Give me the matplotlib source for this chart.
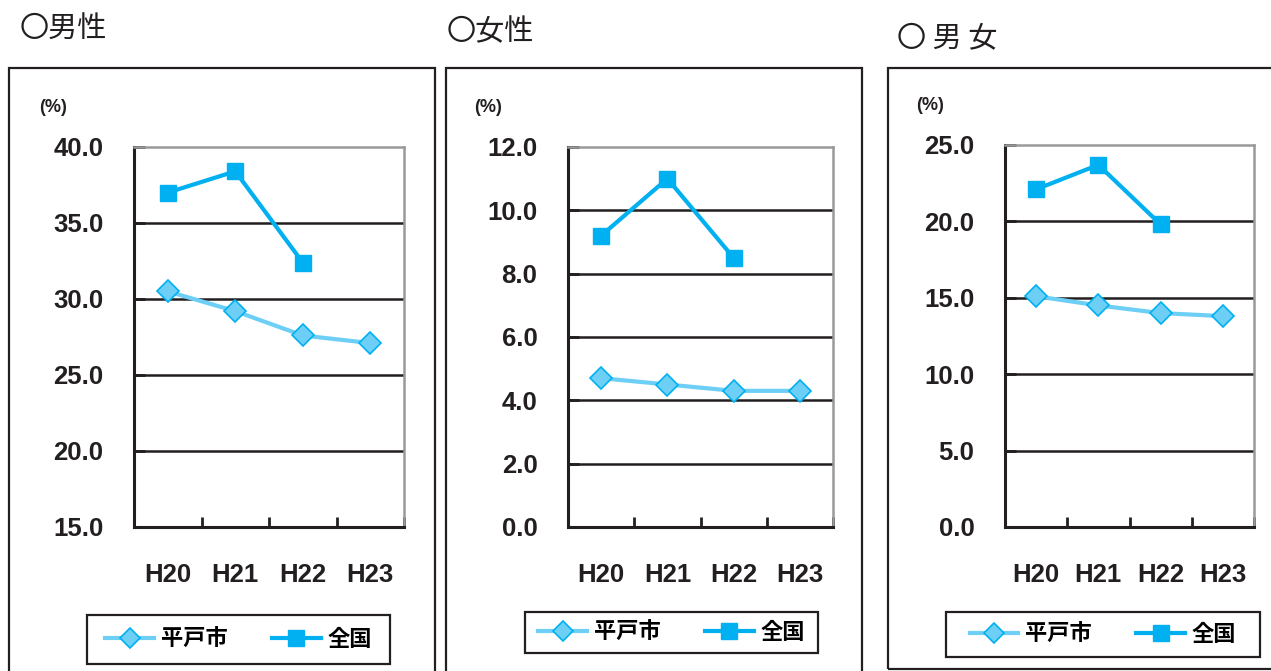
import matplotlib
matplotlib.use('Agg')
import matplotlib.pyplot as plt
from matplotlib.patches import Rectangle
from matplotlib.lines import Line2D
from matplotlib.ticker import FixedLocator

# Data
years = ['H20', 'H21', 'H22', 'H23']
male_hirado = [30.5, 29.2, 27.6, 27.1]
male_japan = [37.0, 38.4, 32.4]
female_hirado = [4.7, 4.5, 4.3, 4.3]
female_japan = [9.2, 11.0, 8.5]
both_hirado = [15.1, 14.5, 14.0, 13.8]
both_japan = [22.1, 23.7, 19.8]
titles = ['〇男性', '〇女性', '〇 男 女']
series_names = ['平戸市', '全国']

W, H = 1271, 671
fig = plt.figure(figsize=(W / 100, H / 100), dpi=100)

NUM_FONT = ['Liberation Sans Narrow', 'Liberation Sans', 'DejaVu Sans']
JP_FONT = ['Noto Sans CJK JP', 'DejaVu Sans']

c_japan = '#00B0F0'
c_hirado_line = '#6DCFF6'
c_hirado_fill = '#6DCFF6'
c_ink = '#231F20'


def fx(px):
    return px / W


def fy(py):
    return 1 - py / H


def frect(x0, y0, x1, y1):
    # pixel box -> figure rect
    return [fx(x0), fy(y1), fx(x1) - fx(x0), fy(y0) - fy(y1)]


# layout per panel (pixels)
panels = [
    dict(frame=(9, 68, 435, 690), ax=(134, 147, 404, 527), title=(20, 29),
         pct=(39, 107), legend=(87, 615, 390, 664),
         ylim=(15, 40), yticks=[15, 20, 25, 30, 35, 40],
         hirado=male_hirado, japan=male_japan),
    dict(frame=(446, 68, 862, 690), ax=(568, 147, 833, 527), title=(447, 32),
         pct=(474, 107), legend=(525, 612, 818, 653),
         ylim=(0, 12), yticks=[0, 2, 4, 6, 8, 10, 12],
         hirado=female_hirado, japan=female_japan),
    dict(frame=(888, 68, 1290, 669), ax=(1005, 145, 1254, 527), title=(897, 38),
         pct=(916, 105), legend=(946, 612, 1260, 657),
         ylim=(0, 25), yticks=[0, 5, 10, 15, 20, 25],
         hirado=both_hirado, japan=both_japan),
]

for i, p in enumerate(panels):
    x0, y0, x1, y1 = p['frame']
    fig.patches.append(Rectangle((fx(x0), fy(y1)), fx(x1) - fx(x0), fy(y0) - fy(y1),
                                 transform=fig.transFigure, fill=False,
                                 edgecolor=c_ink, linewidth=1.6, zorder=0))

    fig.text(fx(p['title'][0]), fy(p['title'][1]), titles[i],
             fontsize=21, family=JP_FONT, va='center', ha='left', color=c_ink)
    fig.text(fx(p['pct'][0]), fy(p['pct'][1]), '(%)', fontsize=13, fontweight='bold',
             family=NUM_FONT, va='center', ha='left', color=c_ink)

    ax = fig.add_axes(frect(*p['ax']))
    xs = list(range(len(years)))
    ax.plot(xs, p['hirado'], color=c_hirado_line, linewidth=3, marker='D',
            markersize=11, markerfacecolor=c_hirado_fill, markeredgecolor=c_japan,
            markeredgewidth=1.2, zorder=3, clip_on=False)
    ax.plot(xs[:len(p['japan'])], p['japan'], color=c_japan, linewidth=3, marker='s',
            markersize=12, markerfacecolor=c_japan, markeredgecolor=c_japan,
            zorder=4, clip_on=False)

    ax.set_xlim(-0.5, len(years) - 0.5)
    ax.set_ylim(*p['ylim'])
    ax.set_yticks(p['yticks'])
    ax.set_yticklabels(['%.1f' % v for v in p['yticks']])
    ax.set_xticks(xs)
    ax.set_xticklabels(years)
    ax.xaxis.set_minor_locator(FixedLocator([0.5, 1.5, 2.5, 3.5]))
    ax.tick_params(axis='x', which='major', length=0, pad=26, labelsize=18.5)
    ax.tick_params(axis='x', which='minor', direction='in', length=7, width=2,
                   color=c_ink)
    ax.tick_params(axis='y', direction='in', length=8, width=2, color=c_ink,
                   pad=22, labelsize=18.5)
    for lab in ax.get_xticklabels() + ax.get_yticklabels():
        lab.set_family(NUM_FONT)
        lab.set_fontweight('bold')
        lab.set_color(c_ink)

    for v in p['yticks'][1:-1]:
        ax.axhline(v, color=c_ink, linewidth=1.8, zorder=1)
    ax.spines['left'].set_linewidth(2.2)
    ax.spines['bottom'].set_linewidth(2.2)
    ax.spines['left'].set_color(c_ink)
    ax.spines['bottom'].set_color(c_ink)
    ax.spines['top'].set_color('#999999')
    ax.spines['right'].set_color('#999999')
    ax.spines['top'].set_linewidth(1.8)
    ax.spines['right'].set_linewidth(1.8)

    # legend box
    lx0, ly0, lx1, ly1 = p['legend']
    fig.patches.append(Rectangle((fx(lx0), fy(ly1)), fx(lx1) - fx(lx0), fy(ly0) - fy(ly1),
                                 transform=fig.transFigure, fill=False,
                                 edgecolor=c_ink, linewidth=1.6, zorder=0))
    handles = [
        Line2D([], [], color=c_hirado_line, linewidth=3, marker='D', markersize=10,
               markerfacecolor=c_hirado_fill, markeredgecolor=c_japan, markeredgewidth=1.2),
        Line2D([], [], color=c_japan, linewidth=3, marker='s', markersize=11,
               markerfacecolor=c_japan, markeredgecolor=c_japan),
    ]
    fig.legend(handles, series_names, loc='center',
               bbox_to_anchor=(fx((lx0 + lx1) / 2), fy((ly0 + ly1) / 2)),
               ncol=2, frameon=False, handlelength=2.2, columnspacing=2.0,
               handletextpad=0.3,
               prop=dict(family=JP_FONT, weight='bold', size=16))

fig.savefig('out.png', dpi=100)
